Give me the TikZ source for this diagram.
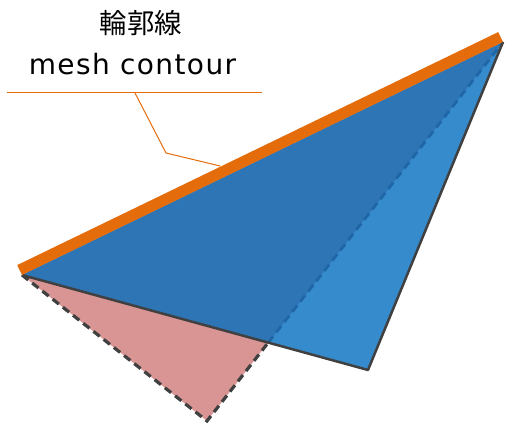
\documentclass[tikz,border=0pt]{standalone}
\usepackage{fontspec}
\newfontfamily\jpfont{Noto Sans CJK JP}
\newfontfamily\latfont[LetterSpace=5]{DejaVu Sans}
\usetikzlibrary{calc,intersections}
\definecolor{stripor}{HTML}{E46C0A}
\definecolor{bluedark}{HTML}{2E75B6}
\definecolor{bluelight}{HTML}{368BCC}
\definecolor{pinkfill}{HTML}{D99594}
\definecolor{edgegray}{HTML}{404040}
\definecolor{dashblue}{HTML}{1F66A6}
\tikzset{
  edgeline/.style={draw=edgegray, line width=2.5pt, line join=round},
  hiddenline/.style={draw=edgegray, line width=3.2pt, dash pattern=on 8pt off 5pt},
  hiddenblue/.style={draw=dashblue, line width=2.8pt, dash pattern=on 8pt off 5pt},
  contour/.style={draw=stripor, line width=11pt, line cap=butt},
  leader/.style={draw=stripor, line width=1pt},
  labeltext/.style={inner sep=0pt, text=black}
}
\begin{document}
\begin{tikzpicture}[x=1pt,y=1pt]
\useasboundingbox (0,0) rectangle (506,425);
\coordinate (A) at (22,150);
\coordinate (B) at (503,383);
\coordinate (C) at (368,55);
\coordinate (D) at (207,4);
\coordinate (E) at (intersection of A--C and D--B);
% pink triangle
\fill[pinkfill] (A) -- (D) -- (B) -- cycle;
% blue triangle
\fill[bluelight] (A) -- (C) -- (B) -- cycle;
\fill[bluedark] (A) -- (E) -- (B) -- cycle;
% hidden edges
\draw[hiddenline] (A) -- (D) -- (E);
\draw[hiddenblue] (E) -- (B);
% visible edges
\draw[edgeline] (A) -- (C) -- (B);
% leader
\coordinate (H1) at (7,332);
\coordinate (H2) at (262,332);
\coordinate (K) at (135,332);
\coordinate (L) at (166,272);
\coordinate (M) at (220,259);
\draw[leader] (H1) -- (H2);
\draw[leader] (K) -- (L) -- (M);
% contour strip
\draw[contour] ($(A)!5.5pt!90:(B)$) -- ($(B)!5.5pt!-90:(A)$);
% labels
\node[labeltext, font=\jpfont\fontsize{27.5}{30}\selectfont] (jp) at (141,401.5) {輪郭線};
\node[labeltext, anchor=base, font=\latfont\fontsize{28}{30}\selectfont] (en) at (132.5,350) {mesh contour};
\end{tikzpicture}
\end{document}
